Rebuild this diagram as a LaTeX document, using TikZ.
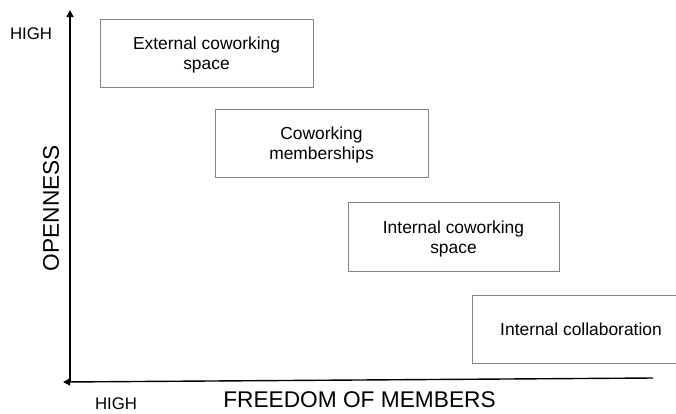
\documentclass[tikz,border=0pt]{standalone}
\usepackage{fontspec}
\setmainfont{Liberation Sans}
\usetikzlibrary{arrows.meta}
% taller first line, so that two-line labels sit a little lower in their boxes
\newcommand{\firstline}{\rule{0pt}{17.5pt}}
\begin{document}
\begin{tikzpicture}[x=1pt,y=-1pt,
  box/.style={draw=black!48, line width=0.9pt, inner sep=0pt, align=center,
    font=\fontsize{17.4}{20}\selectfont},
  axis/.style={draw=black, line width=1.4pt, -{Triangle[length=7pt,width=7pt]}},
  axislabel/.style={inner sep=0pt, font=\fontsize{22.7}{26}\selectfont},
  highlabel/.style={inner sep=0pt, font=\fontsize{16.8}{19}\selectfont}]
  \useasboundingbox (0,0) rectangle (676,413);

  % axes
  \coordinate (origin) at (70,382);
  \coordinate (ytop) at (70,10);
  \coordinate (xstart) at (653,378);
  \coordinate (xend) at (63,382);
  \draw[axis] (origin) -- (ytop);
  \draw[axis] (xstart) -- (xend);

  % axis labels
  \node[axislabel, rotate=90] (openness) at (51,208) {OPENNESS};
  \node[axislabel] (freedom) at (359.5,400) {FREEDOM OF MEMBERS};
  \node[highlabel] (hightop) at (31,34) {HIGH};
  \node[highlabel] (highbottom) at (116,403.5) {HIGH};

  % categories
  \node[box, minimum width=213pt, minimum height=68pt] (ext) at (206.5,53)
    {\firstline External coworking\\space};
  \node[box, minimum width=213pt, minimum height=68pt] (memb) at (321.5,143)
    {\firstline Coworking\\memberships};
  \node[box, minimum width=211pt, minimum height=69pt] (intspace) at (453.5,236.5)
    {\firstline Internal coworking\\space};
  \node[box, minimum width=218pt, minimum height=68pt] (collab) at (581,329)
    {Internal collaboration};
\end{tikzpicture}
\end{document}
